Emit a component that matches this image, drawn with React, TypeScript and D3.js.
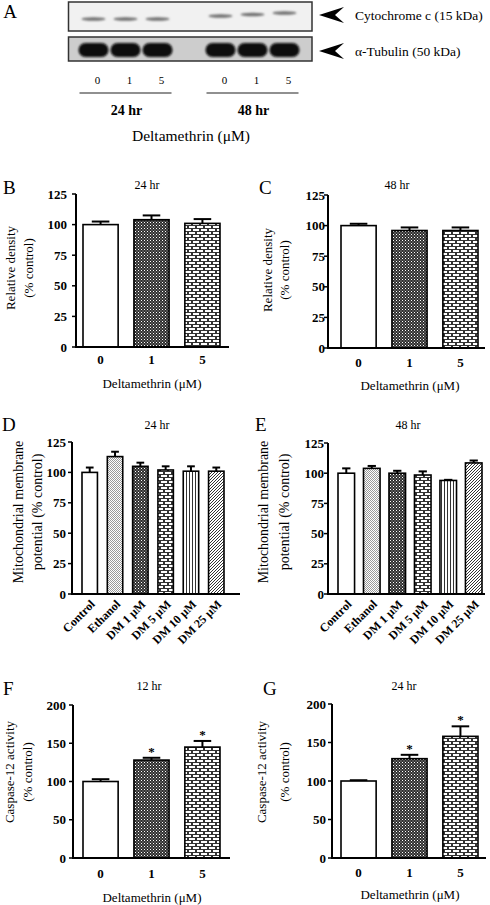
import React from 'react';
import * as d3 from 'd3';

// ---------- data ----------
const doseCats = ['0', '1', '5'];
const mmpCats = ['Control', 'Ethanol', 'DM 1 μM', 'DM 5 μM', 'DM 10 μM', 'DM 25 μM'];

const densityB = [100, 104, 101];
const densityBErr = [2.5, 3.5, 3.5];
const densityC = [100, 96, 96];
const densityCErr = [1.5, 2.5, 2.5];

const mmpD = [100, 113, 105, 102, 101, 101];
const mmpDErr = [4, 4, 3, 3, 4, 3];
const mmpE = [100, 104, 100, 98.5, 94, 108.5];
const mmpEErr = [4, 2, 2, 3, 0.5, 2];

const caspF = [100, 128, 145];
const caspFErr = [3, 3, 8];
const caspG = [100, 129, 158];
const caspGErr = [1, 5, 13];
const caspFSig = [false, true, true];
const caspGSig = [false, true, true];

const densityTicks = [0, 25, 50, 75, 100, 125];
const caspTicks = [0, 50, 100, 150, 200];

const blotGroups = ['24 hr', '48 hr'];
const blotLanes = ['0', '1', '5'];

const doseFills = ['white', 'url(#pChecker)', 'url(#pBrick)'];
const mmpFills = ['white', 'url(#pDots)', 'url(#pChecker)', 'url(#pBrick)', 'url(#pVLines)', 'url(#pDiag)'];

const FONT = '"Liberation Serif", "Times New Roman", serif';

type PanelProps = {
  cats: string[];
  values: number[];
  errs: number[];
  fills: string[];
  sig?: boolean[];
  yMax: number;
  yTicks: number[];
  axisX: number;
  axisRight: number;
  y0: number;
  yTop: number;
  barRange: [number, number];
  padInner: number;
  labelGap: number;
  rotated: boolean;
  tickLabelY: number;
  xTitle?: string;
  xTitleX?: number;
  xTitleY?: number;
  yLines: string[];
  yLineXs: number[];
  yLineY: number;
  yLineSize: number;
  title: string;
  titleX: number;
  titleY: number;
  letter: string;
  letterX: number;
  letterY: number;
};

function BarPanel(p: PanelProps) {
  const x = d3.scaleBand<string>().domain(p.cats).range(p.barRange).paddingInner(p.padInner).paddingOuter(0);
  const y = d3.scaleLinear().domain([0, p.yMax]).range([p.y0, p.yTop]);
  const bw = x.bandwidth();
  return (
    <g>
      <text x={p.letterX} y={p.letterY} fontSize={19} fontFamily={FONT} dominantBaseline="central">{p.letter}</text>
      <text x={p.titleX} y={p.titleY} fontSize={12} fontFamily={FONT} textAnchor="middle" dominantBaseline="central">{p.title}</text>
      {p.yLines.map((t, i) => (
        <text key={i} transform={`translate(${p.yLineXs[i]},${p.yLineY}) rotate(-90)`} fontSize={p.yLineSize} fontFamily={FONT}
          textAnchor="middle" dominantBaseline="central">{t}</text>
      ))}
      {p.cats.map((c, i) => {
        const v = p.values[i];
        const e = p.errs[i];
        const cx = (x(c) as number) + bw / 2;
        return (
          <g key={c}>
            <line x1={cx} x2={cx} y1={y(v)} y2={y(v + e)} stroke="black" strokeWidth={2} />
            <line x1={cx - bw / 4} x2={cx + bw / 4} y1={y(v + e)} y2={y(v + e)} stroke="black" strokeWidth={2} />
            <rect x={x(c)} y={y(v)} width={bw} height={p.y0 - y(v)} fill={p.fills[i]} stroke="black" strokeWidth={1.6} />
            {p.sig && p.sig[i] ? (
              <text x={cx} y={y(v + e) - 2} fontSize={13} fontFamily={FONT} fontWeight="bold" textAnchor="middle">*</text>
            ) : null}
          </g>
        );
      })}
      <line x1={p.axisX} x2={p.axisX} y1={y(0) + 1} y2={y(p.yMax)} stroke="black" strokeWidth={2} />
      <line x1={p.axisX - 1} x2={p.axisRight} y1={p.y0} y2={p.y0} stroke="black" strokeWidth={2} />
      {p.yTicks.map((t) => (
        <g key={t}>
          <line x1={p.axisX - 4} x2={p.axisX} y1={y(t)} y2={y(t)} stroke="black" strokeWidth={1.5} />
          <text x={p.axisX - p.labelGap} y={y(t)} fontSize={13} fontWeight="bold" fontFamily={FONT}
            textAnchor="end" dominantBaseline="central">{t}</text>
        </g>
      ))}
      {p.cats.map((c) => {
        const cx = (x(c) as number) + bw / 2;
        return p.rotated ? (
          <text key={c} transform={`translate(${cx + 6},${p.tickLabelY}) rotate(-45)`} fontSize={12} fontWeight="bold"
            fontFamily={FONT} textAnchor="end">{c}</text>
        ) : (
          <text key={c} x={cx} y={p.tickLabelY} fontSize={13} fontWeight="bold" fontFamily={FONT}
            textAnchor="middle" dominantBaseline="central">{c}</text>
        );
      })}
      {p.xTitle ? (
        <text x={p.xTitleX} y={p.xTitleY} fontSize={13} fontFamily={FONT} textAnchor="middle" dominantBaseline="central">{p.xTitle}</text>
      ) : null}
    </g>
  );
}

function Blot() {
  const g = d3.scaleBand<string>().domain(blotGroups).range([62, 316]).paddingInner(0).paddingOuter(0);
  const lane = d3.scalePoint<string>().domain(blotLanes).range([-32, 32]);
  const laneX = (grp: string, l: string) => (g(grp) as number) + g.bandwidth() / 2 + (lane(l) as number);
  const cytoY = [19, 16];
  const arrow = (cy: number) => `M319,${cy} L344,${cy - 8} L335,${cy} L344,${cy + 8} Z`;
  return (
    <g>
      <text x={10} y={11} fontSize={19} fontFamily={FONT} textAnchor="middle" dominantBaseline="central">A</text>
      <rect x={68.5} y={2} width={243.5} height={29} fill="#f1f1f1" stroke="#333" strokeWidth={1.5} />
      <rect x={68.5} y={37} width={243.5} height={24} fill="#cdcdcd" stroke="#333" strokeWidth={1.5} />
      {blotGroups.map((grp, gi) =>
        blotLanes.map((l, li) => (
          <g key={grp + l}>
            <ellipse cx={laneX(grp, l)} cy={cytoY[gi] - (gi === 1 ? li * 1.5 : 0)} rx={12} ry={1.8} fill="#707070" filter="url(#fBlur)" />
            <rect x={laneX(grp, l) - 15} y={43} width={30} height={14} rx={7} fill="#0a0a0a" filter="url(#fBlur2)" />
          </g>
        ))
      )}
      <path d={arrow(15)} fill="black" />
      <path d={arrow(51)} fill="black" />
      <text x={355} y={15} fontSize={13.5} fontFamily={FONT} dominantBaseline="central">Cytochrome c (15 kDa)</text>
      <text x={355} y={51} fontSize={13.5} fontFamily={FONT} dominantBaseline="central">α-Tubulin (50 kDa)</text>
      {blotGroups.map((grp) => (
        <g key={grp}>
          {blotLanes.map((l) => (
            <text key={l} x={laneX(grp, l) + 4} y={80} fontSize={11} fontFamily={FONT} textAnchor="middle" dominantBaseline="central">{l}</text>
          ))}
          <line x1={(g(grp) as number) + g.bandwidth() / 2 - 46} x2={(g(grp) as number) + g.bandwidth() / 2 + 46} y1={93} y2={93} stroke="#222" strokeWidth={1.2} />
          <text x={(g(grp) as number) + g.bandwidth() / 2 + 1} y={110} fontSize={14} fontWeight="bold" fontFamily={FONT} textAnchor="middle" dominantBaseline="central">{grp}</text>
        </g>
      ))}
      <text x={191} y={135} fontSize={15.5} fontFamily={FONT} textAnchor="middle" dominantBaseline="central">Deltamethrin (μM)</text>
    </g>
  );
}

export default function App() {
  return (
    <svg width={490} height={905} style={{ position: 'absolute', left: 0, top: 0, background: 'white' }}>
      <defs>
        <filter id="fBlur" x="-50%" y="-100%" width="200%" height="300%"><feGaussianBlur stdDeviation={1} /></filter>
        <filter id="fBlur2" x="-20%" y="-40%" width="140%" height="180%"><feGaussianBlur stdDeviation={0.8} /></filter>
        <pattern id="pChecker" patternUnits="userSpaceOnUse" width={3} height={3}>
          <rect width={3} height={3} fill="#2e2e2e" />
          <rect x={0} y={0} width={1} height={1} fill="#ffffff" />
          <rect x={1.5} y={1.5} width={1} height={1} fill="#bbbbbb" />
        </pattern>
        <pattern id="pDots" patternUnits="userSpaceOnUse" width={2} height={2}>
          <rect width={2} height={2} fill="#ffffff" />
          <rect x={0} y={0} width={1} height={1} fill="#9a9a9a" />
          <rect x={1} y={1} width={1} height={1} fill="#9a9a9a" />
        </pattern>
        <pattern id="pBrick" patternUnits="userSpaceOnUse" width={8} height={6}>
          <rect width={8} height={6} fill="#333" />
          <rect x={1} y={1} width={6} height={2} fill="#fff" />
          <rect x={-3} y={4} width={6} height={2} fill="#fff" />
          <rect x={5} y={4} width={6} height={2} fill="#fff" />
        </pattern>
        <pattern id="pVLines" patternUnits="userSpaceOnUse" width={3} height={3}>
          <rect width={3} height={3} fill="#fff" />
          <rect x={0} y={0} width={1} height={3} fill="#333" />
        </pattern>
        <pattern id="pDiag" patternUnits="userSpaceOnUse" width={3} height={3}>
          <rect width={3} height={3} fill="#fff" />
          <path d="M-1,1 L1,-1 M0,3 L3,0 M2,4 L4,2" stroke="#333" strokeWidth={1} />
        </pattern>
      </defs>

      <Blot />

      <BarPanel
        cats={doseCats} values={densityB} errs={densityBErr} fills={doseFills}
        yMax={125} yTicks={densityTicks} axisX={76} axisRight={229} y0={347} yTop={194}
        barRange={[83, 220]} padInner={0.31} labelGap={9} rotated={false} tickLabelY={359}
        xTitle="Deltamethrin (μM)" xTitleX={152} xTitleY={383}
        yLines={['Relative density', '(% control)']} yLineXs={[10, 28]} yLineY={268} yLineSize={13}
        title="24 hr" titleX={147} titleY={185} letter="B" letterX={3} letterY={187}
      />
      <BarPanel
        cats={doseCats} values={densityC} errs={densityCErr} fills={doseFills}
        yMax={125} yTicks={densityTicks} axisX={328} axisRight={485} y0={348} yTop={195}
        barRange={[341, 478]} padInner={0.31} labelGap={3} rotated={false} tickLabelY={362}
        xTitle="Deltamethrin (μM)" xTitleX={410} xTitleY={385}
        yLines={['Relative density', '(% control)']} yLineXs={[267, 284]} yLineY={270} yLineSize={13}
        title="48 hr" titleX={397} titleY={185} letter="C" letterX={259} letterY={187}
      />
      <BarPanel
        cats={mmpCats} values={mmpD} errs={mmpDErr} fills={mmpFills}
        yMax={125} yTicks={densityTicks} axisX={72} axisRight={240} y0={594} yTop={442}
        barRange={[82, 224]} padInner={0.39} labelGap={6} rotated={true} tickLabelY={605}
        yLines={['Mitochondrial membrane', 'potential (% control)']} yLineXs={[18, 37]} yLineY={512} yLineSize={14}
        title="24 hr" titleX={157} titleY={425} letter="D" letterX={2} letterY={424}
      />
      <BarPanel
        cats={mmpCats} values={mmpE} errs={mmpEErr} fills={mmpFills}
        yMax={125} yTicks={densityTicks} axisX={328} axisRight={485} y0={594} yTop={443}
        barRange={[338, 482]} padInner={0.35} labelGap={4} rotated={true} tickLabelY={605}
        yLines={['Mitochondrial membrane', 'potential (% control)']} yLineXs={[263, 284]} yLineY={512} yLineSize={14}
        title="48 hr" titleX={408} titleY={425} letter="E" letterX={255} letterY={424}
      />
      <BarPanel
        cats={doseCats} values={caspF} errs={caspFErr} fills={doseFills} sig={caspFSig}
        yMax={200} yTicks={caspTicks} axisX={73} axisRight={230} y0={858} yTop={705}
        barRange={[83, 220]} padInner={0.31} labelGap={7} rotated={false} tickLabelY={873}
        xTitle="Deltamethrin (μM)" xTitleX={152} xTitleY={897}
        yLines={['Caspase-12 activity', '(% control)']} yLineXs={[9, 27]} yLineY={772} yLineSize={13}
        title="12 hr" titleX={149} titleY={686} letter="F" letterX={3} letterY={688}
      />
      <BarPanel
        cats={doseCats} values={caspG} errs={caspGErr} fills={doseFills} sig={caspGSig}
        yMax={200} yTicks={caspTicks} axisX={332} axisRight={486} y0={858} yTop={704}
        barRange={[341, 478]} padInner={0.31} labelGap={6} rotated={false} tickLabelY={872}
        xTitle="Deltamethrin (μM)" xTitleX={410} xTitleY={894}
        yLines={['Caspase-12 activity', '(% control)']} yLineXs={[261, 284]} yLineY={772} yLineSize={13}
        title="24 hr" titleX={404} titleY={686} letter="G" letterX={263} letterY={688}
      />
    </svg>
  );
}
